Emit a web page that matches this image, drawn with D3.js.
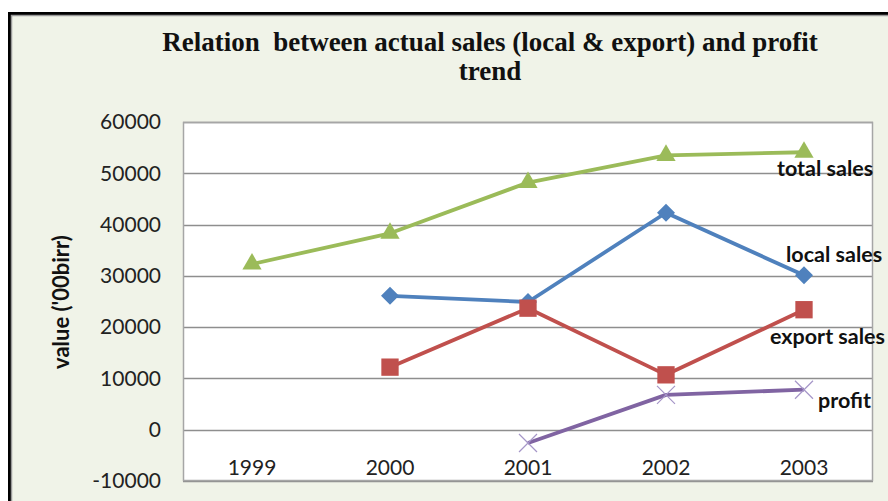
<!DOCTYPE html>
<html>
<head>
<meta charset="utf-8">
<script src="https://d3js.org/d3.v7.min.js"></script>
<style>
  html, body { margin: 0; padding: 0; background: #ffffff; }
  svg { display: block; }
  .keep-space { white-space: pre; }
</style>
</head>
<body>
<svg id="chart" width="888" height="501"></svg>
<script>
// Years on the category axis
const years = ["1999", "2000", "2001", "2002", "2003"];

// Series values in '00 birr (null = no value for that year)
const localSales  = [null, 26100, 24900, 42300, 30100];
const exportSales = [null, 12200, 23700, 10700, 23400];
const totalSales  = [32300, 38300, 48200, 53500, 54100];
const profit      = [null, null, -2600, 6800, 7800];

// Value axis ticks
const yTicks = [-10000, 0, 10000, 20000, 30000, 40000, 50000, 60000];

const titleLines = ["Relation  between actual sales (local & export) and profit", "trend"];
const yAxisTitle = "value ('00birr)";

// Series styling, and where each series name sits relative to its last point
const series = [
  { name: "local sales",  values: localSales,  color: "#4F81BD", marker: "diamond",  dx: -18, dy: -13 },
  { name: "export sales", values: exportSales, color: "#C0504D", marker: "square",   dx: -34, dy: 34 },
  { name: "profit",       values: profit,      color: "#8064A2", marker: "cross",    dx: 14,  dy: 18 },
  { name: "total sales",  values: totalSales,  color: "#9BBB59", marker: "triangle", dx: -27, dy: 24 }
];

const svg = d3.select("#chart");
const W = 888, H = 501;
const plot = { left: 183, right: 873, top: 122, bottom: 481 };

// Outer chart frame
svg.append("rect").attr("x", 0).attr("y", 0).attr("width", W).attr("height", H).attr("fill", "#ffffff");
svg.append("rect")
  .attr("x", 9.5).attr("y", 13.5).attr("width", 950).attr("height", 600)
  .attr("fill", "#F0F3E8").attr("stroke", "#000000").attr("stroke-width", 3);
svg.append("path")
  .attr("d", `M11.5,${H + 10} V15.5 H${W + 10}`)
  .attr("fill", "none").attr("stroke", "#9A9A9A").attr("stroke-width", 1.5);

// Title
const title = svg.append("text")
  .attr("class", "keep-space")
  .attr("text-anchor", "middle")
  .attr("font-family", "'Liberation Serif', 'DejaVu Serif', serif")
  .attr("font-weight", "bold")
  .attr("font-size", 27)
  .attr("fill", "#111");
titleLines.forEach((t, i) => {
  title.append("tspan").attr("x", 490).attr("y", 51 + i * 29).text(t);
});

// Scales
const x = d3.scaleBand().domain(years).range([plot.left, plot.right]);
const cx = d => x(d) + x.bandwidth() / 2;
const y = d3.scaleLinear().domain([-10000, 60000]).range([plot.bottom, plot.top]);

// Plot area
svg.append("rect")
  .attr("x", plot.left).attr("y", plot.top)
  .attr("width", plot.right - plot.left).attr("height", plot.bottom - plot.top)
  .attr("fill", "#ffffff");

// Horizontal gridlines
svg.append("g")
  .selectAll("line")
  .data(yTicks)
  .join("line")
  .attr("x1", plot.left).attr("x2", plot.right)
  .attr("y1", d => Math.round(y(d)) + 0.5).attr("y2", d => Math.round(y(d)) + 0.5)
  .attr("stroke", "#8E8E8E").attr("stroke-width", 1.3);

// Plot area border
svg.append("rect")
  .attr("x", plot.left + 0.5).attr("y", plot.top + 0.5)
  .attr("width", plot.right - plot.left - 1).attr("height", plot.bottom - plot.top - 1)
  .attr("fill", "none").attr("stroke", "#A6A6A6").attr("stroke-width", 1.5);

// Value axis labels
const yAxis = d3.axisLeft(y).tickValues(yTicks).tickSize(0).tickPadding(0).tickFormat(d => String(d));
const yg = svg.append("g").attr("transform", "translate(161,0)").call(yAxis);
yg.select(".domain").remove();
yg.selectAll("text")
  .attr("font-family", "Lato, 'Open Sans', sans-serif")
  .attr("font-size", 21)
  .attr("fill", "#222");

// Category labels (sit just below the zero line)
const xAxis = d3.axisBottom(x).tickSize(0).tickPadding(0);
const xg = svg.append("g").attr("transform", `translate(0,${y(0)})`).call(xAxis);
xg.select(".domain").remove();
xg.selectAll("text")
  .attr("dy", null)
  .attr("y", 45)
  .attr("font-family", "Lato, 'Open Sans', sans-serif")
  .attr("font-size", 21)
  .attr("fill", "#222");

// Axis title
svg.append("text")
  .attr("transform", "translate(60,302) rotate(-90)")
  .attr("text-anchor", "middle")
  .attr("dominant-baseline", "central")
  .attr("font-family", "Lato, 'Open Sans', sans-serif")
  .attr("font-weight", "bold")
  .attr("font-size", 22)
  .attr("fill", "#111")
  .text(yAxisTitle);

// Markers
const markerPath = {
  diamond:  () => "M0,-9L9,0L0,9L-9,0Z",
  square:   d3.symbol().type(d3.symbolSquare).size(300),
  triangle: d3.symbol().type(d3.symbolTriangle).size(160)
};

const line = d3.line()
  .defined(d => d.v !== null)
  .x(d => cx(d.year))
  .y(d => y(d.v));

series.forEach(s => {
  const pts = years.map((yr, i) => ({ year: yr, v: s.values[i] }));
  const g = svg.append("g");

  g.append("path")
    .datum(pts)
    .attr("d", line)
    .attr("fill", "none")
    .attr("stroke", s.color)
    .attr("stroke-width", 3.8)
    .attr("stroke-linejoin", "round");

  const valid = pts.filter(d => d.v !== null);
  if (s.marker === "cross") {
    const r = 9;
    valid.forEach(d => {
      const px = cx(d.year), py = y(d.v);
      g.append("path")
        .attr("d", `M${px - r},${py - r}L${px + r},${py + r}M${px - r},${py + r}L${px + r},${py - r}`)
        .attr("stroke", "#A596C8").attr("stroke-width", 1.2).attr("fill", "none");
    });
  } else {
    g.selectAll("path.m")
      .data(valid)
      .join("path")
      .attr("class", "m")
      .attr("d", markerPath[s.marker])
      .attr("transform", d => `translate(${cx(d.year)},${y(d.v)})`)
      .attr("fill", s.color);
  }

  // Series name beside the last point
  const last = valid[valid.length - 1];
  svg.append("text")
    .attr("x", cx(last.year) + s.dx)
    .attr("y", y(last.v) + s.dy)
    .attr("font-family", "Lato, 'Open Sans', sans-serif")
    .attr("font-weight", "bold")
    .attr("font-size", 21.5)
    .attr("fill", "#111")
    .text(s.name);
});
</script>
</body>
</html>
